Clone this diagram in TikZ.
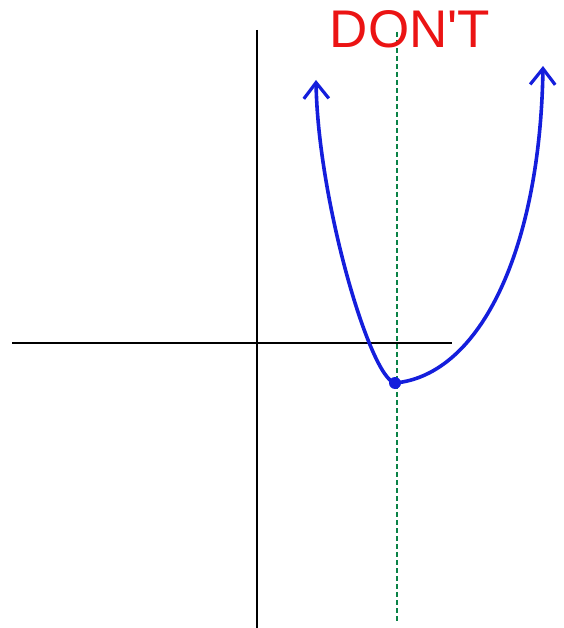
\documentclass[tikz,border=0pt]{standalone}
\usepackage{fontspec}
\setmainfont{Liberation Sans}
\usetikzlibrary{arrows.meta}
\definecolor{penblue}{RGB}{20,30,220}
\definecolor{guidegreen}{RGB}{10,130,70}
\definecolor{warnred}{RGB}{235,20,20}

\begin{document}
\begin{tikzpicture}[
  x=1pt, y=-1pt,
  axis/.style={draw=black, line width=2.8pt},
  guide/.style={draw=guidegreen, line width=2.2pt, dash pattern=on 5pt off 3pt},
  curve/.style={draw=penblue, line width=3.6pt, line cap=round, line join=round},
  barb/.style={-{Straight Barb[length=16pt, width=25pt, line width=3.2pt]}},
  label/.style={text=warnred, font=\fontsize{53}{53}\selectfont, inner sep=0pt}
]
  \useasboundingbox (0,0) rectangle (563,628);

  % Axes
  \coordinate (xl) at (12,343);
  \coordinate (xr) at (452,343);
  \coordinate (yt) at (257,30);
  \coordinate (yb) at (257,628);
  \draw[axis] (xl) -- (xr);
  \draw[axis] (yt) -- (yb);

  % Axis of symmetry
  \coordinate (gt) at (397,32);
  \coordinate (gb) at (397,621);
  \draw[guide] (gt) -- (gb);

  % Label
  \node[label] (dont) at (410,29) {DON\textquotesingle T};

  % Parabola
  \coordinate (vertex) at (395,383);
  \coordinate (ltip) at (316,80);
  \coordinate (rtip) at (543,66);
  \draw[curve, barb] (vertex) .. controls (370,378) and (318,200) .. (ltip);
  \draw[curve, barb] (vertex) .. controls (480,375) and (540,250) .. (rtip);
  \fill[penblue] (vertex) circle (6pt);
\end{tikzpicture}
\end{document}
